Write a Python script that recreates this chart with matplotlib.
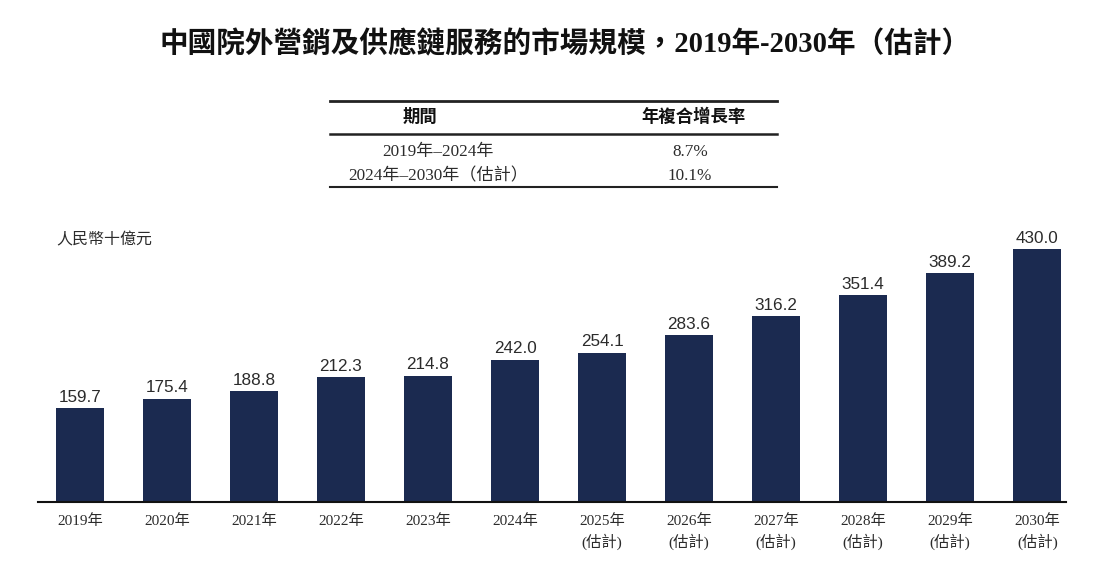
import matplotlib
matplotlib.use("Agg")
import matplotlib.pyplot as plt
from matplotlib.lines import Line2D

years = ["2019年", "2020年", "2021年", "2022年", "2023年", "2024年",
         "2025年", "2026年", "2027年", "2028年", "2029年", "2030年"]
estimate = [False] * 6 + [True] * 6
values = [159.7, 175.4, 188.8, 212.3, 214.8, 242.0,
          254.1, 283.6, 316.2, 351.4, 389.2, 430.0]
table_header = ["期間", "年複合增長率"]
table_periods = ["2019年–2024年", "2024年–2030年（估計）"]
table_cagr = ["8.7%", "10.1%"]

title = "中國院外營銷及供應鏈服務的市場規模，2019年-2030年（估計）"
unit = "人民幣十億元"

SERIF = ["Liberation Serif", "Noto Sans CJK TC", "DejaVu Sans"]
SANS = ["Liberation Sans", "Noto Sans CJK TC", "DejaVu Sans"]
BAR = "#1b2a50"
TXT = "#2b2b2b"

W, H = 1106, 576
fig = plt.figure(figsize=(W / 100, H / 100), dpi=100)

def fx(px):
    return px / W

def fy(py):
    return 1 - py / H

ax = fig.add_axes([fx(38), fy(502), fx(1066) - fx(38), fy(230) - fy(502)])
x = list(range(len(values)))
ax.bar(x, values, width=0.55, color=BAR, zorder=2)
ax.set_xlim(-0.48, 11.33)
ax.set_ylim(0, 462.6)
for s in ["top", "right", "left"]:
    ax.spines[s].set_visible(False)
ax.spines["bottom"].set_linewidth(1.5)
ax.spines["bottom"].set_color("#111111")
ax.set_yticks([])
ax.set_xticks(x)
ax.set_xticklabels([y + ("\n(估計)" if e else "") for y, e in zip(years, estimate)],
                   fontfamily=SERIF, fontsize=11, color=TXT, linespacing=1.4)
ax.tick_params(axis="x", length=0, pad=9)

for xi, v in zip(x, values):
    ax.annotate(f"{v:.1f}", (xi, v), xytext=(0, 2.5), textcoords="offset points",
                ha="center", va="bottom", fontsize=12.3, family=SANS, color=TXT)

fig.text(fx(565), fy(44), title, ha="center", va="center", fontsize=20.6,
         fontweight="bold", family=SERIF, color="#111111")

fig.text(fx(56), fy(240), unit, ha="left", va="center", fontsize=11.5,
         family=SERIF, color=TXT)

# table
for ypx, lw in [(101, 2.0), (134, 1.8), (187, 1.5)]:
    fig.add_artist(Line2D([fx(330), fx(777)], [fy(ypx), fy(ypx)], lw=lw,
                          color="#222222", transform=fig.transFigure))
fig.text(fx(420), fy(117), table_header[0], ha="center", va="center", fontsize=12.5,
         fontweight="bold", family=SERIF, color="#111111")
fig.text(fx(694), fy(117), table_header[1], ha="center", va="center", fontsize=12.5,
         fontweight="bold", family=SERIF, color="#111111")
for i, (p, c) in enumerate(zip(table_periods, table_cagr)):
    yy = 152 + i * 24
    fig.text(fx(438), fy(yy), p, ha="center", va="center", fontsize=12.3,
             family=SERIF, color=TXT)
    fig.text(fx(690), fy(yy), c, ha="center", va="center", fontsize=12.3,
             family=SERIF, color=TXT)

fig.savefig("out.png", dpi=100, facecolor="white")
